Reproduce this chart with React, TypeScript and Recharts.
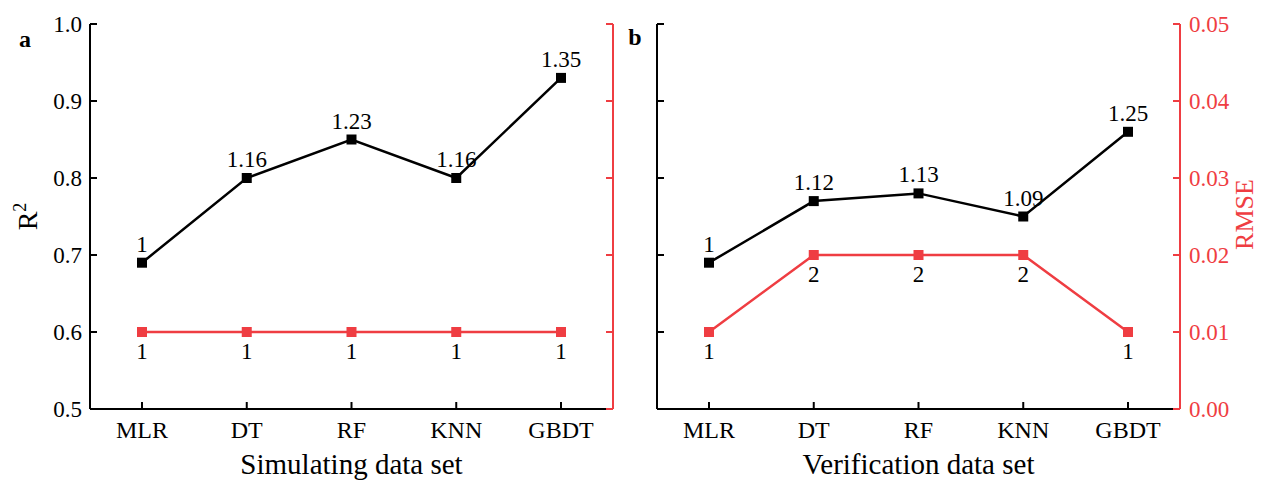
import React from 'react';
import { LineChart, Line, XAxis, YAxis, LabelList } from 'recharts';

const models = ['MLR', 'DT', 'RF', 'KNN', 'GBDT'];

// a: simulating data set
const simR2 = [0.69, 0.8, 0.85, 0.8, 0.93];
const simR2Ratio = ['1', '1.16', '1.23', '1.16', '1.35'];
const simRmse = [0.01, 0.01, 0.01, 0.01, 0.01];
const simRmseRatio = ['1', '1', '1', '1', '1'];

// b: verification data set
const verR2 = [0.69, 0.77, 0.78, 0.75, 0.86];
const verR2Ratio = ['1', '1.12', '1.13', '1.09', '1.25'];
const verRmse = [0.01, 0.02, 0.02, 0.02, 0.01];
const verRmseRatio = ['1', '2', '2', '2', '1'];

const r2Ticks = [0.5, 0.6, 0.7, 0.8, 0.9, 1.0];
const rmseTicks = [0, 0.01, 0.02, 0.03, 0.04, 0.05];

const FONT = '"Liberation Serif", "Times New Roman", serif';
const RED = '#ef3d42';

const squareDot = (color: string) => (props: any) => {
  const { cx, cy, index } = props;
  return <rect key={`sq-${color}-${index}`} x={cx - 5} y={cy - 5} width={10} height={10} fill={color} />;
};

const NoTick = () => <g />;

const R2Title = (props: any) => {
  const vb = props.viewBox;
  const x = vb.x + 37;
  const y = vb.y + vb.height / 2;
  return (
    <text x={x} y={y} transform={`rotate(-90 ${x} ${y})`} textAnchor="middle" fill="#000" fontFamily={FONT} fontSize={28}>
      <tspan>R</tspan>
      <tspan dy={-11} fontSize={18}>2</tspan>
    </text>
  );
};

const RmseTitle = (props: any) => {
  const vb = props.viewBox;
  const x = vb.x + vb.width - 8;
  const y = vb.y + vb.height / 2 - 2;
  return (
    <text x={x} y={y} transform={`rotate(-90 ${x} ${y})`} textAnchor="middle" fill={RED} fontFamily={FONT} fontSize={26}>
      RMSE
    </text>
  );
};

interface PanelProps {
  left: number;
  width: number;
  title: string;
  r2: number[];
  r2Ratio: string[];
  rmse: number[];
  rmseRatio: string[];
  r2Labels: boolean;
  rmseLabels: boolean;
}

const Panel: React.FC<PanelProps> = ({ left, width, title, r2, r2Ratio, rmse, rmseRatio, r2Labels, rmseLabels }) => {
  const data = models.map((m, i) => ({
    model: m,
    r2: r2[i],
    r2Ratio: r2Ratio[i],
    rmse: rmse[i],
    rmseRatio: rmseRatio[i],
  }));
  const rightW = width - 90 - 523;

  return (
    <div style={{ position: 'absolute', left, top: 0 }}>
      <LineChart width={width} height={485} data={data} margin={{ top: 24, right: 0, bottom: 0, left: 0 }}>
        <XAxis
          dataKey="model"
          height={76}
          padding={{ left: 52, right: 52 }}
          interval={0}
          axisLine={{ stroke: '#000', strokeWidth: 2 }}
          tickLine={{ stroke: '#000', strokeWidth: 2 }}
          tickSize={-7}
          tickMargin={19}
          tick={{ fill: '#000', fontSize: 24, fontFamily: FONT }}
          label={{ value: title, position: 'insideBottom', offset: 11, fill: '#000', fontSize: 29, fontFamily: FONT }}
        />
        <YAxis
          yAxisId="r2"
          domain={[0.5, 1]}
          ticks={r2Ticks}
          width={90}
          axisLine={{ stroke: '#000', strokeWidth: 2 }}
          tickLine={{ stroke: '#000', strokeWidth: 2 }}
          tickSize={-7}
          tickMargin={15}
          tickFormatter={(v: number) => v.toFixed(1)}
          tick={r2Labels ? { fill: '#000', fontSize: 23, fontFamily: FONT } : NoTick}
          label={r2Labels ? { content: R2Title } : undefined}
        />
        <YAxis
          yAxisId="rmse"
          orientation="right"
          domain={[0, 0.05]}
          ticks={rmseTicks}
          width={rightW}
          axisLine={{ stroke: RED, strokeWidth: 2 }}
          tickLine={{ stroke: RED, strokeWidth: 2 }}
          tickSize={-7}
          tickMargin={16}
          tickFormatter={(v: number) => v.toFixed(2)}
          tick={rmseLabels ? { fill: RED, fontSize: 23, fontFamily: FONT } : NoTick}
          label={rmseLabels ? { content: RmseTitle } : undefined}
        />
        <Line
          yAxisId="r2"
          dataKey="r2"
          stroke="#000"
          strokeWidth={2.5}
          dot={squareDot('#000')}
          activeDot={false}
          isAnimationActive={false}
        >
          <LabelList dataKey="r2Ratio" position="top" offset={11} fill="#000" fontSize={23} fontFamily={FONT} />
        </Line>
        <Line
          yAxisId="rmse"
          dataKey="rmse"
          stroke={RED}
          strokeWidth={2.5}
          dot={squareDot(RED)}
          activeDot={false}
          isAnimationActive={false}
        >
          <LabelList dataKey="rmseRatio" position="bottom" offset={11} fill="#000" fontSize={23} fontFamily={FONT} />
        </Line>
      </LineChart>
    </div>
  );
};

const App: React.FC = () => (
  <div style={{ position: 'absolute', left: 0, top: 0, width: 1261, height: 485, background: '#fff' }}>
    <Panel
      left={0}
      width={700}
      title="Simulating data set"
      r2={simR2}
      r2Ratio={simR2Ratio}
      rmse={simRmse}
      rmseRatio={simRmseRatio}
      r2Labels={true}
      rmseLabels={false}
    />
    <Panel
      left={567}
      width={694}
      title="Verification data set"
      r2={verR2}
      r2Ratio={verR2Ratio}
      rmse={verRmse}
      rmseRatio={verRmseRatio}
      r2Labels={false}
      rmseLabels={true}
    />
    <svg width={1261} height={485} style={{ position: 'absolute', left: 0, top: 0, pointerEvents: 'none' }}>
      <text x={25} y={47} textAnchor="middle" fontFamily={FONT} fontWeight="bold" fontSize={24} fill="#000">a</text>
      <text x={635} y={45} textAnchor="middle" fontFamily={FONT} fontWeight="bold" fontSize={24} fill="#000">b</text>
    </svg>
  </div>
);

export default App;
